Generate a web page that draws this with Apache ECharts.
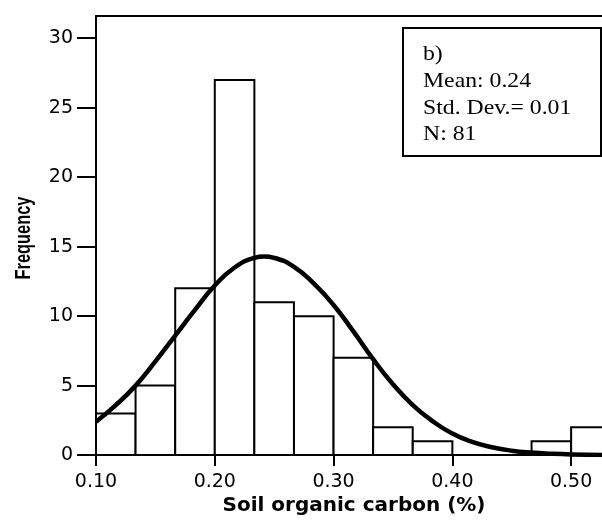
<!DOCTYPE html>
<html><head><meta charset="utf-8">
<script src="https://cdn.jsdelivr.net/npm/echarts@6/dist/echarts.min.js"></script>
<style>html,body{margin:0;padding:0;background:#fff}#c{width:602px;height:521px}</style>
</head><body><div id="c"></div>
<script>
// Histogram bins (start of each bin), width 1/30
var binStarts = [0.1000, 0.1333, 0.1667, 0.2000, 0.2333, 0.2667, 0.3000, 0.3333, 0.3667, 0.4000, 0.4333, 0.4667, 0.5000];
var binWidth = 1 / 30;
var counts = [3, 5, 12, 27, 11, 10, 7, 2, 1, 0, 0, 1, 2];
// Fitted normal curve
var curveX = [0.100, 0.1167, 0.1333, 0.150, 0.1667, 0.1833, 0.200, 0.2167, 0.2333, 0.2417, 0.250, 0.2667, 0.2833, 0.300, 0.3167, 0.3333, 0.350, 0.3667, 0.3833, 0.400, 0.4167, 0.4333, 0.450, 0.4667, 0.4833, 0.500, 0.527];
var curveY = [2.4, 3.6, 5.0, 6.75, 8.6, 10.45, 12.2, 13.5, 14.2, 14.3, 14.2, 13.55, 12.35, 10.8, 8.9, 6.9, 5.1, 3.6, 2.45, 1.55, 0.95, 0.57, 0.32, 0.18, 0.1, 0.05, 0.015];
var yTicks = [0, 5, 10, 15, 20, 25, 30];
var xTicks = [0.10, 0.20, 0.30, 0.40, 0.50];
var infoLines = ['b)', 'Mean: 0.24', 'Std. Dev.= 0.01', 'N: 81'];
var xName = 'Soil organic carbon (%)';
var yName = 'Frequency';

var barData = binStarts.map(function (s, i) { return [s, s + binWidth, counts[i]]; });
var lineData = curveX.map(function (x, i) { return [x, curveY[i]]; });

var chart = echarts.init(document.getElementById('c'));
chart.setOption({
  animation: false,
  grid: { left: 96, right: 0, top: 16, bottom: 57, containLabel: false },
  xAxis: [{
    type: 'value', min: 0.10, max: 0.526, interval: 0.10,
    axisLine: { show: true, onZero: false, lineStyle: { color: '#000', width: 2 } },
    axisTick: { show: true, length: 11, lineStyle: { color: '#000', width: 2 },
      customValues: xTicks },
    axisLabel: { color: '#000', fontFamily: 'DejaVu Sans', fontSize: 19, margin: 17,
      customValues: xTicks,
      formatter: function (v) { return v.toFixed(2); } },
    splitLine: { show: false },
    name: xName, nameLocation: 'middle', nameGap: 37,
    nameTextStyle: { color: '#000', fontFamily: 'DejaVu Sans', fontWeight: 'bold', fontSize: 20, padding: [0, 0, 0, 10] }
  }, {
    type: 'value', position: 'top', min: 0.10, max: 0.526,
    axisLine: { show: true, onZero: false, lineStyle: { color: '#000', width: 2 } },
    axisTick: { show: false }, axisLabel: { show: false }, splitLine: { show: false }
  }],
  yAxis: {
    type: 'value', min: 0, max: 31.6, interval: 5,
    axisLine: { show: true, onZero: false, lineStyle: { color: '#000', width: 2 } },
    axisTick: { show: true, length: 19, lineStyle: { color: '#000', width: 2 }, customValues: yTicks },
    axisLabel: { color: '#000', fontFamily: 'DejaVu Sans', fontSize: 19, margin: 23, customValues: yTicks },
    splitLine: { show: false }
  },
  series: [{
    type: 'custom',
    data: barData,
    clip: true,
    renderItem: function (params, api) {
      var p0 = api.coord([api.value(0), 0]);
      var p1 = api.coord([api.value(1), api.value(2)]);
      return {
        type: 'rect',
        shape: { x: p0[0], y: p1[1], width: p1[0] - p0[0], height: p0[1] - p1[1] },
        style: { fill: '#fff', stroke: '#000', lineWidth: 2 }
      };
    },
    z: 1
  }, {
    type: 'line', data: lineData, smooth: true, symbol: 'none', clip: true,
    lineStyle: { color: '#000', width: 4.5 }, z: 3
  }],
  graphic: [{
    type: 'text', x: 24, y: 238, rotation: Math.PI / 2, scaleX: 1, scaleY: 1.34, z: 11,
    style: { text: yName, fill: '#000', font: 'bold 16.4px "Liberation Sans", Arial, sans-serif',
      textAlign: 'center', textVerticalAlign: 'middle' }
  }, {
    type: 'rect', left: 402, top: 27, z: 10,
    shape: { width: 198, height: 128 },
    style: { fill: '#fff', stroke: '#000', lineWidth: 2 }
  }, {
    type: 'text', x: 423, y: 41.5, scaleX: 1.13, z: 11,
    style: { text: infoLines.join('\n'), fill: '#000', font: '21px "Liberation Serif", "Times New Roman", serif', lineHeight: 26.7 }
  }]
});
</script></body></html>
